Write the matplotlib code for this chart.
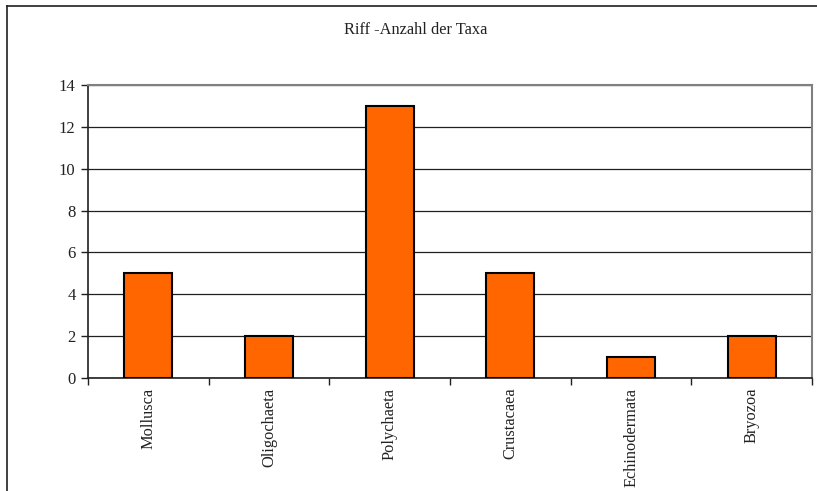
import matplotlib

matplotlib.use("Agg")
import matplotlib.pyplot as plt
from matplotlib.lines import Line2D
import numpy as np

CATEGORIES = ["Mollusca", "Oligochaeta", "Polychaeta", "Crustacaea", "Echinodermata", "Bryozoa"]
VALUES = [5, 2, 13, 5, 1, 2]
TITLE = "Riff -Anzahl der Taxa"

plt.rcParams["font.family"] = ["Liberation Serif", "DejaVu Serif"]
TEXT_COLOR = "#222222"

fig = plt.figure(figsize=(8.17, 4.91), dpi=100)
ax = fig.add_axes([88 / 817, 1 - 378 / 491, (812 - 88) / 817, (378 - 85) / 491])

x = np.arange(len(CATEGORIES))
ax.bar(x, VALUES, width=0.4, color="#FF6600", edgecolor="black", linewidth=1.5, zorder=3)

ax.set_xlim(-0.5, len(CATEGORIES) - 0.5)
ax.set_ylim(0, 14)
ax.set_yticks(range(0, 15, 2))
ax.yaxis.grid(True, color="#202020", linewidth=0.9, zorder=0)

ax.set_xticks(x)
ax.set_xticklabels(CATEGORIES, rotation=90, fontsize=11.8, color=TEXT_COLOR)
ax.tick_params(axis="x", length=0, pad=7)
ax.set_xticks(np.arange(-0.5, len(CATEGORIES)), minor=True)
ax.tick_params(axis="x", which="minor", length=5, width=1, color="#202020", direction="out")
ax.tick_params(axis="y", labelsize=12, labelcolor=TEXT_COLOR, length=5, width=1, color="#202020", pad=4)

for side in ("top", "right"):
    ax.spines[side].set_color("#808080")
    ax.spines[side].set_linewidth(1.5)
for side in ("left", "bottom"):
    ax.spines[side].set_color("#202020")
    ax.spines[side].set_linewidth(1.2)

fig.text(416 / 817, 1 - 30 / 491, TITLE, ha="center", va="center", fontsize=11.8, color=TEXT_COLOR)

# outer chart frame (left and top edges visible)
fig.add_artist(Line2D([7 / 817, 7 / 817], [0, 1 - 6 / 491], color="#202020", linewidth=1.2, transform=fig.transFigure))
fig.add_artist(Line2D([7 / 817, 1], [1 - 6 / 491, 1 - 6 / 491], color="#202020", linewidth=1.2, transform=fig.transFigure))

fig.savefig("out.png", dpi=100)
